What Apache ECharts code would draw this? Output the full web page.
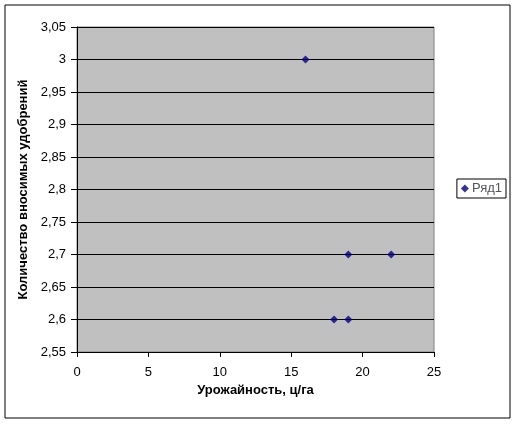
<!DOCTYPE html>
<html>
<head>
<meta charset="utf-8">
<script src="https://cdn.jsdelivr.net/npm/echarts@6/dist/echarts.min.js"></script>
<style>
html, body { margin: 0; padding: 0; background: #fff; }
#chart { width: 516px; height: 424px; }
</style>
</head>
<body>
<div id="chart"></div>
<script>
// данные с рисунка
const yieldX = [16, 19, 22, 18, 19];
const fertY = [3, 2.7, 2.7, 2.6, 2.6];
const seriesName = "Ряд1";
const xTitle = "Урожайность, ц/га";
const yTitle = "Количество вносимых удобрений";

const comma = (v) => String(Math.round(v * 100) / 100).replace(".", ",");

let points = yieldX.map((x, i) => [x, fertY[i]]);
let myChart = echarts.init(document.getElementById("chart"));
let option = {
  animation: false,
  textStyle: { fontFamily: "Liberation Sans", color: "#000" },
  graphic: [
    {
      type: "rect",
      shape: { x: 5, y: 5, width: 505, height: 413 },
      style: { fill: "none", stroke: "#000", lineWidth: 1 },
      z: -10,
    },
  ],
  grid: {
    left: 77,
    top: 27,
    width: 357,
    height: 325,
    show: true,
    backgroundColor: "#c0c0c0",
    borderColor: "#808080",
    borderWidth: 1,
  },
  legend: {
    right: 10,
    top: 179,
    orient: "vertical",
    itemWidth: 8,
    itemHeight: 8,
    itemGap: 0,
    padding: [3, 4, 3, 4],
    borderColor: "#000",
    borderWidth: 1,
    textStyle: { fontSize: 13, fontFamily: "Liberation Sans", padding: [0, 0, 0, -2] },
    data: [{ name: seriesName, icon: "diamond" }],
  },
  xAxis: {
    type: "value",
    min: 0,
    max: 25,
    interval: 5,
    name: xTitle,
    nameLocation: "middle",
    nameGap: 31,
    nameTextStyle: { fontWeight: "bold", fontSize: 13 },
    axisLine: { show: true, onZero: false, lineStyle: { color: "#000" } },
    axisTick: { show: true, inside: false, length: 5, lineStyle: { color: "#000" } },
    axisLabel: { fontSize: 13, color: "#000", margin: 14 },
    splitLine: { show: false },
  },
  yAxis: {
    type: "value",
    min: 2.55,
    max: 3.05,
    interval: 0.05,
    name: yTitle,
    nameLocation: "middle",
    nameGap: 42,
    nameTextStyle: { fontWeight: "bold", fontSize: 13 },
    axisLine: { show: true, onZero: false, lineStyle: { color: "#000" } },
    axisTick: { show: true, inside: false, length: 6, lineStyle: { color: "#000" } },
    axisLabel: { fontSize: 13, color: "#000", margin: 11, formatter: comma },
    splitLine: { show: true, lineStyle: { color: "#000", width: 1 } },
  },
  series: [
    {
      name: seriesName,
      type: "scatter",
      symbol: "diamond",
      symbolSize: 8,
      itemStyle: { color: "#000080" },
      data: points,
    },
  ],
};
myChart.setOption(option);
</script>
</body>
</html>
